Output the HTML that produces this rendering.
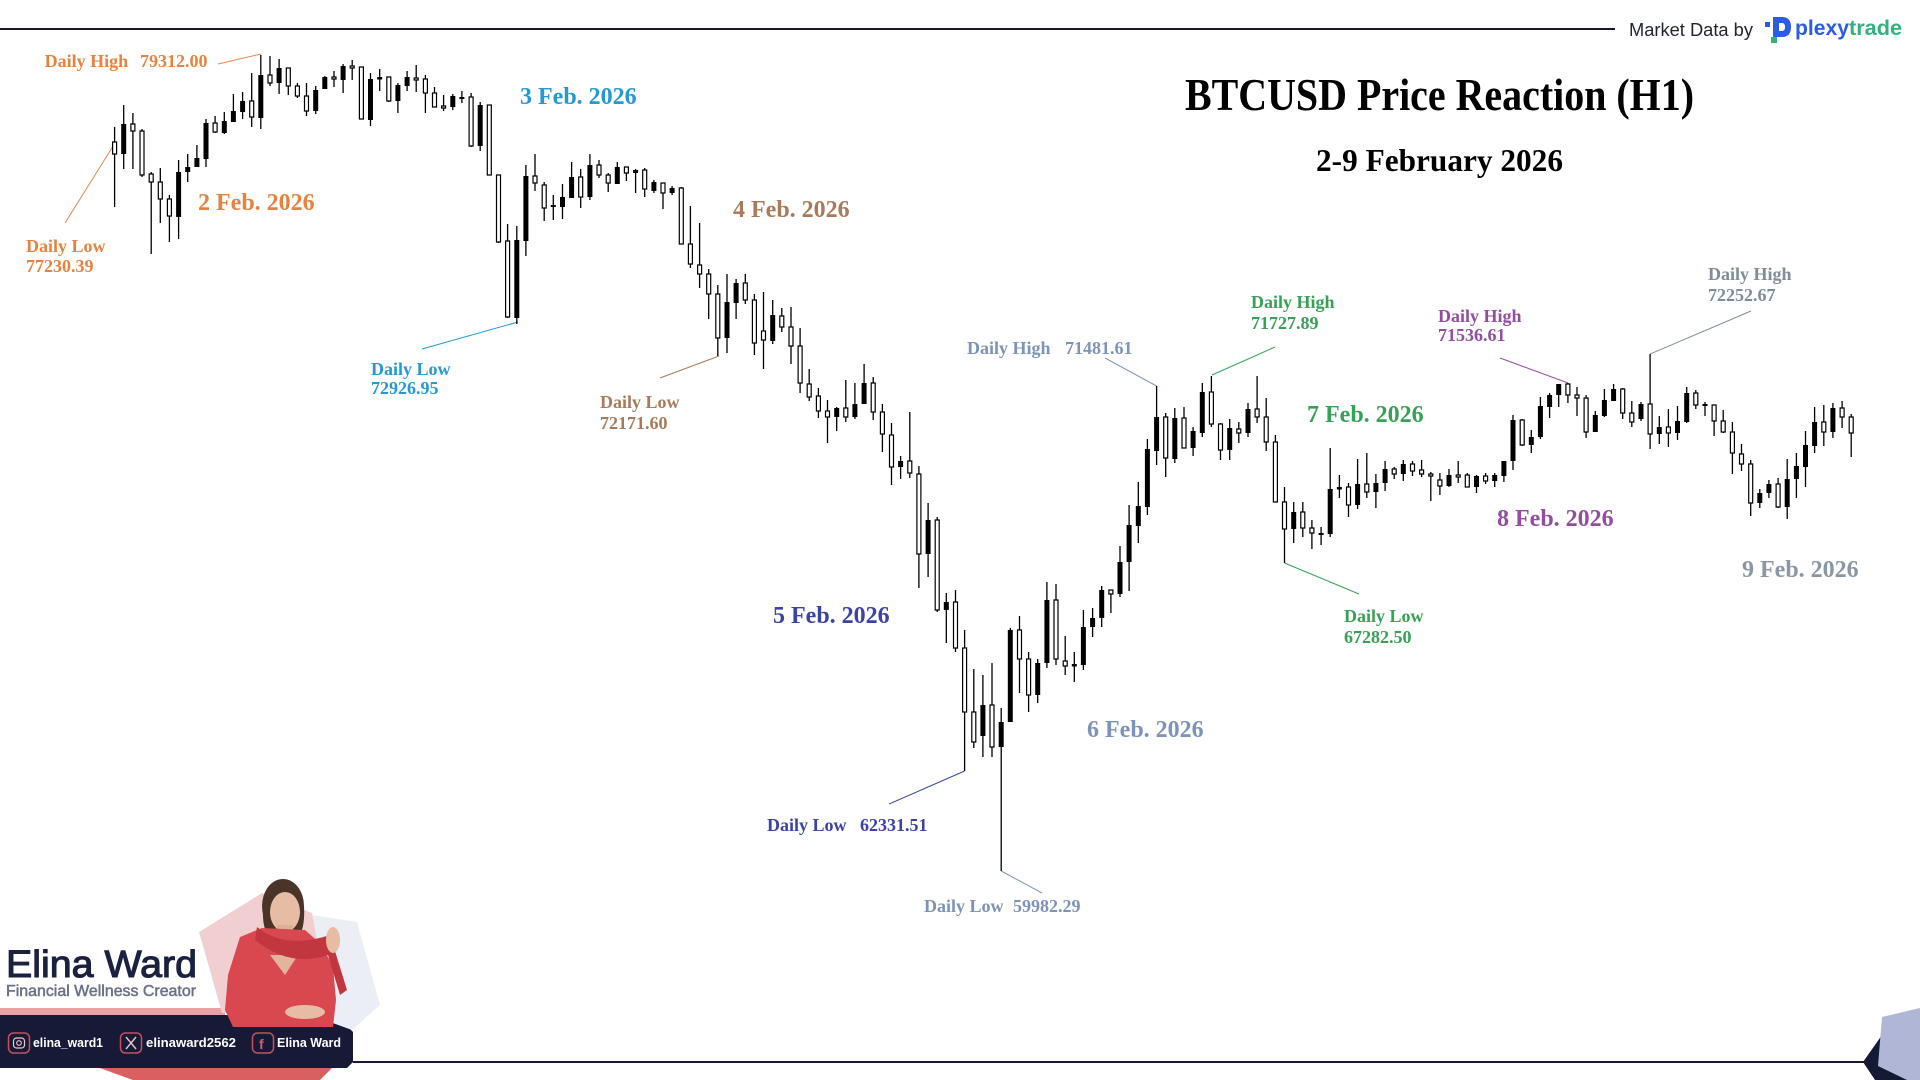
<!DOCTYPE html>
<html><head><meta charset="utf-8"><title>BTCUSD Price Reaction (H1)</title>
<style>
html,body{margin:0;padding:0;background:#fff;width:1920px;height:1080px;overflow:hidden}
svg{display:block}
.s{font-family:"Liberation Serif","Times New Roman",serif;font-weight:bold}
.l{font-size:18px}
.d{font-size:24px}
.ss{font-family:"Liberation Sans",Arial,sans-serif}
</style></head><body>
<svg width="1920" height="1080" viewBox="0 0 1920 1080" xmlns="http://www.w3.org/2000/svg">
<rect width="1920" height="1080" fill="#fff"/>

<!-- top rule and data credit -->
<rect x="0" y="28" width="1615" height="2" fill="#151a2d"/>
<text class="ss" x="1629" y="36" font-size="18" fill="#23252f" textLength="124" lengthAdjust="spacingAndGlyphs">Market Data by</text>
<rect x="1765" y="22" width="5" height="5" fill="#2b5ce6"/>
<path d="M1773 17H1782Q1791 17 1791 27Q1791 37 1782 37H1779V31H1782Q1785 31 1785 27Q1785 23 1782 23H1779V37H1773Z" fill="#2b5ce6"/>
<rect x="1771" y="37" width="6" height="6" fill="#31b37c"/>
<text class="ss" x="1795" y="35" font-size="21" font-weight="bold" fill="#2b5ce6" textLength="54" lengthAdjust="spacingAndGlyphs">plexy</text>
<text class="ss" x="1849" y="35" font-size="21" font-weight="bold" fill="#31b37c" textLength="53" lengthAdjust="spacingAndGlyphs">trade</text>

<!-- titles -->
<text class="s" x="1185" y="110" font-size="46" fill="#000" textLength="509" lengthAdjust="spacingAndGlyphs">BTCUSD Price Reaction (H1)</text>
<text class="s" x="1316" y="171" font-size="32" fill="#000" textLength="247" lengthAdjust="spacingAndGlyphs">2-9 February 2026</text>

<!-- annotation lines -->
<g stroke-width="1" fill="none">
<line x1="218" y1="64" x2="261" y2="54" stroke="#e08a50"/>
<line x1="65" y1="223" x2="115" y2="143" stroke="#e08a50"/>
<line x1="422" y1="349" x2="518" y2="322" stroke="#2499d4"/>
<line x1="660" y1="378" x2="719" y2="356" stroke="#a97b5d"/>
<line x1="889" y1="804" x2="964.6" y2="771" stroke="#3b44a6"/>
<line x1="1001.2" y1="871" x2="1042" y2="893" stroke="#7d93b9"/>
<line x1="1105" y1="358" x2="1156.6" y2="386" stroke="#7d93b9"/>
<line x1="1212" y1="375" x2="1275" y2="347" stroke="#37a257"/>
<line x1="1284.5" y1="563" x2="1359" y2="594" stroke="#37a257"/>
<line x1="1500" y1="358" x2="1568" y2="383" stroke="#934e9f"/>
<line x1="1650.1" y1="354" x2="1751" y2="311" stroke="#7f8c99"/>
</g>

<!-- candles: wicks -->
<path fill="none" stroke="#000" stroke-width="1.3" d="M114.6 127V207M123.7 105V169M132.9 113V169M142 129V177M151.2 172V254M160.3 168V223M169.4 195V242M178.6 160V239M187.7 154V182M196.9 145V167M206 119V167M215.1 116V133M224.3 112V134M233.4 94V122M242.6 92V119M251.7 73V127M260.8 55V129M270 56V86M279.1 59V94M288.3 68V95M297.4 83V98M306.5 83V116M315.7 86V114M324.8 76V89M334 71V87M343.1 64V93M352.2 60V80M361.4 67V119M370.5 73V126M379.7 69V91M388.8 77V102M397.9 83V113M407.1 71V91M416.2 65V92M425.4 75V113M434.5 87V107M443.6 95V111M452.8 94V110M461.9 91V103M471.1 93V147M480.2 102V151M489.3 105V175M498.5 175V243M507.6 224V318M516.8 226V324M525.9 165V256M535 154V191M544.2 182V221M553.3 195V220M562.5 184V219M571.6 162V198M580.7 169V208M589.9 154V200M599 160V178M608.2 173V192M617.3 162V184M626.4 167V181M635.6 169V193M644.7 168V197M653.9 180V193M663 183V209M672.1 186V195M681.3 187V244M690.4 206V268M699.6 223V288M708.7 269V319M717.8 285V356M727 274V353M736.1 279V319M745.3 274V304M754.4 294V355M763.5 292V369M772.7 300V344M781.8 308V332M791 307V364M800.1 328V393M809.2 369V401M818.4 388V418M827.5 400V443M836.7 407V431M845.8 380V422M854.9 383V419M864.1 364V404M873.2 377V420M882.4 404V452M891.5 423V485M900.6 456V479M909.8 412V478M918.9 466V588M928.1 503V577M937.2 517V612M946.3 593V643M955.5 590V652M964.6 630V771M973.8 669V748M982.9 675V757M992 663V757M1001.2 708V871M1010.3 628V722M1019.5 616V693M1028.6 652V712M1037.7 659V703M1046.9 582V668M1056 584V665M1065.2 636V675M1074.3 652V682M1083.4 610V670M1092.6 608V637M1101.7 586V627M1110.9 590V613M1120 546V597M1129.1 505V591M1138.3 482V543M1147.4 439V515M1156.6 386V465M1165.7 413V477M1174.8 408V463M1184 407V448M1193.1 427V456M1202.3 383V437M1211.4 376V427M1220.5 423V460M1229.7 419V460M1238.8 422V443M1248 403V437M1257.1 376V423M1266.2 398V451M1275.4 435V502M1284.5 487V563M1293.7 502V543M1302.8 502V537M1311.9 520V549M1321.1 527V545M1330.2 448V537M1339.4 475V498M1348.5 483V517M1357.6 459V509M1366.8 453V498M1375.9 474V508M1385.1 461V491M1394.2 467V479M1403.3 460V481M1412.5 461V476M1421.6 460V477M1430.8 472V501M1439.9 473V495M1449 469V487M1458.2 461V483M1467.3 473V487M1476.5 475V493M1485.6 473V484M1494.7 473V487M1503.9 461V482M1513 415V470M1522.2 419V446M1531.3 430V453M1540.4 397V439M1549.6 393V418M1558.7 384V407M1567.9 383V403M1577 387V416M1586.1 395V438M1595.3 411V432M1604.4 389V417M1613.6 384V401M1622.7 388V419M1631.8 401V427M1641 402V421M1650.1 354V449M1659.3 416V444M1668.4 409V447M1677.5 406V440M1686.7 387V423M1695.8 390V409M1705 402V416M1714.1 405V436M1723.2 410V433M1732.4 422V474M1741.5 444V471M1750.7 460V516M1759.8 489V508M1768.9 480V498M1778.1 478V508M1787.2 459V519M1796.4 453V498M1805.5 431V487M1814.6 407V453M1823.8 405V446M1832.9 403V438M1842.1 401V428M1851.2 414V457"/>

<!-- candles: hollow bodies -->
<path fill="#fff" stroke="#000" stroke-width="1.2" d="M114.6 142m-2 0h4V154h-4zM132.9 124m-2 0h4V131h-4zM142 131m-2 0h4V175h-4zM151.2 174m-2 0h4V182h-4zM160.3 182m-2 0h4V199h-4zM169.4 199m-2 0h4V216h-4zM215.1 123m-2 0h4V132h-4zM251.7 101m-2 0h4V117h-4zM270 75m-2 0h4V83h-4zM288.3 68m-2 0h4V86h-4zM297.4 86m-2 0h4V96h-4zM306.5 96m-2 0h4V111h-4zM334 77m-2 0h4V79h-4zM352.2 66m-2 0h4V68h-4zM361.4 67m-2 0h4V119h-4zM388.8 77m-2 0h4V101h-4zM416.2 78m-2 0h4V80h-4zM425.4 79m-2 0h4V93h-4zM434.5 93m-2 0h4V107h-4zM443.6 106m-2 0h4V108h-4zM471.1 97m-2 0h4V146h-4zM489.3 105m-2 0h4V175h-4zM498.5 175m-2 0h4V242h-4zM507.6 241m-2 0h4V317h-4zM535 176m-2 0h4V183h-4zM544.2 185m-2 0h4V208h-4zM580.7 177m-2 0h4V197h-4zM599 165m-2 0h4V175h-4zM608.2 175m-2 0h4V183h-4zM626.4 167m-2 0h4V173h-4zM644.7 170m-2 0h4V189h-4zM663 183m-2 0h4V193h-4zM681.3 188m-2 0h4V244h-4zM690.4 244m-2 0h4V264h-4zM699.6 265m-2 0h4V274h-4zM708.7 274m-2 0h4V294h-4zM717.8 294m-2 0h4V338h-4zM745.3 283m-2 0h4V300h-4zM754.4 300m-2 0h4V343h-4zM763.5 331m-2 0h4V340h-4zM781.8 316m-2 0h4V327h-4zM791 327m-2 0h4V346h-4zM800.1 346m-2 0h4V383h-4zM809.2 384m-2 0h4V397h-4zM818.4 396m-2 0h4V411h-4zM827.5 411m-2 0h4V417h-4zM845.8 408m-2 0h4V417h-4zM873.2 383m-2 0h4V412h-4zM882.4 412m-2 0h4V434h-4zM891.5 435m-2 0h4V467h-4zM909.8 461m-2 0h4V473h-4zM918.9 474m-2 0h4V554h-4zM937.2 520m-2 0h4V610h-4zM955.5 602m-2 0h4V648h-4zM964.6 648m-2 0h4V712h-4zM973.8 712m-2 0h4V742h-4zM992 705m-2 0h4V747h-4zM1019.5 630m-2 0h4V659h-4zM1028.6 659m-2 0h4V695h-4zM1056 600m-2 0h4V659h-4zM1065.2 661m-2 0h4V666h-4zM1110.9 590m-2 0h4V594h-4zM1165.7 417m-2 0h4V458h-4zM1184 418m-2 0h4V448h-4zM1211.4 392m-2 0h4V424h-4zM1220.5 424m-2 0h4V450h-4zM1238.8 429m-2 0h4V433h-4zM1257.1 409m-2 0h4V417h-4zM1266.2 417m-2 0h4V442h-4zM1275.4 442m-2 0h4V502h-4zM1284.5 502m-2 0h4V529h-4zM1302.8 512m-2 0h4V528h-4zM1311.9 528m-2 0h4V533h-4zM1348.5 487m-2 0h4V505h-4zM1366.8 484m-2 0h4V492h-4zM1394.2 469m-2 0h4V474h-4zM1412.5 464m-2 0h4V471h-4zM1421.6 470m-2 0h4V474h-4zM1430.8 474m-2 0h4V476h-4zM1439.9 480m-2 0h4V486h-4zM1458.2 475m-2 0h4V477h-4zM1467.3 475m-2 0h4V487h-4zM1485.6 476m-2 0h4V481h-4zM1522.2 420m-2 0h4V445h-4zM1567.9 384m-2 0h4V395h-4zM1577 395m-2 0h4V398h-4zM1586.1 398m-2 0h4V432h-4zM1622.7 389m-2 0h4V413h-4zM1631.8 413m-2 0h4V422h-4zM1650.1 404m-2 0h4V434h-4zM1668.4 427m-2 0h4V433h-4zM1695.8 393m-2 0h4V405h-4zM1714.1 405m-2 0h4V421h-4zM1723.2 421m-2 0h4V432h-4zM1732.4 432m-2 0h4V453h-4zM1741.5 454m-2 0h4V464h-4zM1750.7 464m-2 0h4V503h-4zM1778.1 484m-2 0h4V507h-4zM1823.8 422m-2 0h4V432h-4zM1842.1 408m-2 0h4V417h-4zM1851.2 417m-2 0h4V433h-4z"/>

<!-- candles: filled bodies -->
<path fill="#000" d="M123.7 124m-2.5 0h5V154h-5zM178.6 172m-2.5 0h5V217h-5zM187.7 167m-2.5 0h5V172h-5zM196.9 158m-2.5 0h5V167h-5zM206 123m-2.5 0h5V159h-5zM224.3 121m-2.5 0h5V133h-5zM233.4 111m-2.5 0h5V122h-5zM242.6 101m-2.5 0h5V112h-5zM260.8 75m-2.5 0h5V118h-5zM279.1 68m-2.5 0h5V83h-5zM315.7 90m-2.5 0h5V111h-5zM324.8 77m-2.5 0h5V89h-5zM343.1 66m-2.5 0h5V80h-5zM370.5 79m-2.5 0h5V120h-5zM379.7 77m-2.5 0h5V79.5h-5zM397.9 85m-2.5 0h5V101h-5zM407.1 77m-2.5 0h5V86h-5zM452.8 96m-2.5 0h5V107h-5zM461.9 97m-2.5 0h5V99h-5zM480.2 105m-2.5 0h5V146h-5zM516.8 240m-2.5 0h5V318h-5zM525.9 176m-2.5 0h5V241h-5zM553.3 205m-2.5 0h5V207h-5zM562.5 197m-2.5 0h5V207h-5zM571.6 177m-2.5 0h5V198h-5zM589.9 165m-2.5 0h5V197h-5zM617.3 167m-2.5 0h5V184h-5zM635.6 170m-2.5 0h5V173h-5zM653.9 182m-2.5 0h5V191h-5zM672.1 188m-2.5 0h5V193h-5zM727 302m-2.5 0h5V338h-5zM736.1 283m-2.5 0h5V303h-5zM772.7 315m-2.5 0h5V341h-5zM836.7 408m-2.5 0h5V417h-5zM854.9 404m-2.5 0h5V417h-5zM864.1 383m-2.5 0h5V404h-5zM900.6 461m-2.5 0h5V467h-5zM928.1 520m-2.5 0h5V554h-5zM946.3 602m-2.5 0h5V610h-5zM982.9 705m-2.5 0h5V736h-5zM1001.2 722m-2.5 0h5V747h-5zM1010.3 630m-2.5 0h5V722h-5zM1037.7 663m-2.5 0h5V695h-5zM1046.9 600m-2.5 0h5V663h-5zM1074.3 664m-2.5 0h5V666.5h-5zM1083.4 627m-2.5 0h5V665h-5zM1092.6 618m-2.5 0h5V627h-5zM1101.7 590m-2.5 0h5V618h-5zM1120 562m-2.5 0h5V594h-5zM1129.1 525m-2.5 0h5V562h-5zM1138.3 506m-2.5 0h5V526h-5zM1147.4 449m-2.5 0h5V507h-5zM1156.6 417m-2.5 0h5V451h-5zM1174.8 418m-2.5 0h5V459h-5zM1193.1 431m-2.5 0h5V448h-5zM1202.3 392m-2.5 0h5V433h-5zM1229.7 428m-2.5 0h5V450h-5zM1248 409m-2.5 0h5V433h-5zM1293.7 512m-2.5 0h5V529h-5zM1321.1 533m-2.5 0h5V535h-5zM1330.2 489m-2.5 0h5V534h-5zM1339.4 487m-2.5 0h5V489.5h-5zM1357.6 484m-2.5 0h5V505h-5zM1375.9 483m-2.5 0h5V492h-5zM1385.1 469m-2.5 0h5V483h-5zM1403.3 464m-2.5 0h5V474h-5zM1449 475m-2.5 0h5V486h-5zM1476.5 476m-2.5 0h5V487h-5zM1494.7 475m-2.5 0h5V481h-5zM1503.9 461m-2.5 0h5V476h-5zM1513 420m-2.5 0h5V461h-5zM1531.3 437m-2.5 0h5V445h-5zM1540.4 406m-2.5 0h5V437h-5zM1549.6 395m-2.5 0h5V407h-5zM1558.7 384m-2.5 0h5V395h-5zM1595.3 415m-2.5 0h5V432h-5zM1604.4 400m-2.5 0h5V416h-5zM1613.6 389m-2.5 0h5V401h-5zM1641 404m-2.5 0h5V419h-5zM1659.3 427m-2.5 0h5V434h-5zM1677.5 421m-2.5 0h5V433h-5zM1686.7 393m-2.5 0h5V422h-5zM1705 404m-2.5 0h5V406h-5zM1759.8 493m-2.5 0h5V503h-5zM1768.9 484m-2.5 0h5V493h-5zM1787.2 479m-2.5 0h5V507h-5zM1796.4 466m-2.5 0h5V479h-5zM1805.5 445m-2.5 0h5V467h-5zM1814.6 422m-2.5 0h5V446h-5zM1832.9 408m-2.5 0h5V432h-5z"/>

<!-- date labels -->
<text class="s d" x="198" y="210" fill="#e8833f">2 Feb. 2026</text>
<text class="s d" x="520" y="104" fill="#2499d4">3 Feb. 2026</text>
<text class="s d" x="733" y="217" fill="#a97b5d">4 Feb. 2026</text>
<text class="s d" x="773" y="623" fill="#3b44a6">5 Feb. 2026</text>
<text class="s d" x="1087" y="737" fill="#7d93b9">6 Feb. 2026</text>
<text class="s d" x="1307" y="422" fill="#37a257">7 Feb. 2026</text>
<text class="s d" x="1497" y="526" fill="#934e9f">8 Feb. 2026</text>
<text class="s d" x="1742" y="577" fill="#8a96a6">9 Feb. 2026</text>

<!-- daily high/low labels -->
<text class="s l" x="44.6" y="67" fill="#e8833f">Daily High</text>
<text class="s l" x="140" y="67" fill="#e8833f">79312.00</text>
<text class="s l" x="26" y="252" fill="#e8833f">Daily Low</text>
<text class="s l" x="26" y="272" fill="#e8833f">77230.39</text>
<text class="s l" x="371" y="375" fill="#2499d4">Daily Low</text>
<text class="s l" x="371" y="394" fill="#2499d4">72926.95</text>
<text class="s l" x="600" y="408" fill="#a97b5d">Daily Low</text>
<text class="s l" x="600" y="429" fill="#a97b5d">72171.60</text>
<text class="s l" x="767" y="831" fill="#3b44a6">Daily Low</text>
<text class="s l" x="860" y="831" fill="#3b44a6">62331.51</text>
<text class="s l" x="924" y="912" fill="#7d93b9">Daily Low</text>
<text class="s l" x="1013" y="912" fill="#7d93b9">59982.29</text>
<text class="s l" x="967" y="354" fill="#7d93b9">Daily High</text>
<text class="s l" x="1065" y="354" fill="#7d93b9">71481.61</text>
<text class="s l" x="1251" y="308" fill="#37a257">Daily High</text>
<text class="s l" x="1251" y="329" fill="#37a257">71727.89</text>
<text class="s l" x="1344" y="622" fill="#37a257">Daily Low</text>
<text class="s l" x="1344" y="643" fill="#37a257">67282.50</text>
<text class="s l" x="1438" y="322" fill="#934e9f">Daily High</text>
<text class="s l" x="1438" y="341" fill="#934e9f">71536.61</text>
<text class="s l" x="1708" y="280" fill="#7f8c99">Daily High</text>
<text class="s l" x="1708" y="301" fill="#7f8c99">72252.67</text>

<!-- bottom rule -->
<rect x="353" y="1061" width="1512" height="2" fill="#141a33"/>

<!-- bottom-right corner shape -->
<polygon points="1863,1062 1882,1035 1920,1035 1920,1080 1875,1080" fill="#141a33"/>
<polygon points="1882,1017 1920,1008 1920,1080 1907,1080 1878,1066" fill="#b0b6d6"/>

<!-- branding bottom-left -->
<text class="ss" x="6" y="977" font-size="38" fill="#1b2140" stroke="#1b2140" stroke-width="1.1" textLength="191" lengthAdjust="spacingAndGlyphs">Elina Ward</text>
<text class="ss" x="6" y="996" font-size="16" fill="#6c7089" stroke="#6c7089" stroke-width="0.5" textLength="190" lengthAdjust="spacingAndGlyphs">Financial Wellness Creator</text>
<rect x="0" y="1008" width="225" height="8" fill="#e8a2a3"/>
<polygon points="97,1067 333,1067 320,1080 133,1080" fill="#d95f61"/>
<polygon points="0,1015 336,1015 353,1032 353,1062 347,1068 0,1068" fill="#161a36"/>

<!-- photo backdrop -->
<polygon points="312,915 357,922 380,1005 352,1030 330,1022" fill="#eceef5"/>
<polygon points="199,932 262,893 312,913 330,1013 222,1013" fill="#f1cfd0"/>
<!-- woman (stylised) -->
<ellipse cx="283" cy="906" rx="21" ry="27" fill="#4a3428"/>
<path d="M263 906 Q262 928 268 934 L300 934 Q305 926 304 906 Z" fill="#4a3428"/>
<ellipse cx="285" cy="912" rx="15" ry="20" fill="#e6bca5"/>
<rect x="277" y="925" width="16" height="14" fill="#ddb096"/>
<polygon points="240,937 262,928 305,930 322,945 333,967 336,1000 333,1027 233,1027 225,1010 228,975" fill="#d9474f"/>
<polygon points="270,955 285,975 298,955" fill="#e2b49c"/>
<path d="M257 927 Q285 950 330 935 L347 990 L340 995 L328 955 Q290 968 255 940 Z" fill="#c2363f"/>
<ellipse cx="333" cy="940" rx="7" ry="13" fill="#e6bca5"/>
<ellipse cx="305" cy="1012" rx="20" ry="7" fill="#e6bca5"/>

<!-- social handles -->
<rect x="8.5" y="1033" width="21" height="20" rx="5" fill="none" stroke="#c4505c" stroke-width="1.5"/>
<rect x="13.5" y="1038" width="11" height="10" rx="3" fill="none" stroke="#f0c8cc" stroke-width="1.2"/>
<circle cx="19" cy="1043" r="2.3" fill="none" stroke="#f0c8cc" stroke-width="1.1"/>
<text class="ss" x="33" y="1047" font-size="12.5" font-weight="bold" fill="#fff" textLength="70" lengthAdjust="spacingAndGlyphs">elina_ward1</text>
<rect x="120.5" y="1033" width="21" height="20" rx="5" fill="none" stroke="#c4505c" stroke-width="1.5"/>
<path d="M126 1037L136 1049M136 1037L126 1049" stroke="#f0c8cc" stroke-width="1.4"/>
<text class="ss" x="146" y="1047" font-size="12.5" font-weight="bold" fill="#fff" textLength="90" lengthAdjust="spacingAndGlyphs">elinaward2562</text>
<rect x="252.5" y="1033" width="21" height="20" rx="5" fill="none" stroke="#c4505c" stroke-width="1.5"/>
<text class="ss" x="259" y="1049" font-size="14" font-weight="bold" fill="#e05a66">f</text>
<text class="ss" x="277" y="1047" font-size="12.5" font-weight="bold" fill="#fff" textLength="64" lengthAdjust="spacingAndGlyphs">Elina Ward</text>
</svg>
</body></html>
